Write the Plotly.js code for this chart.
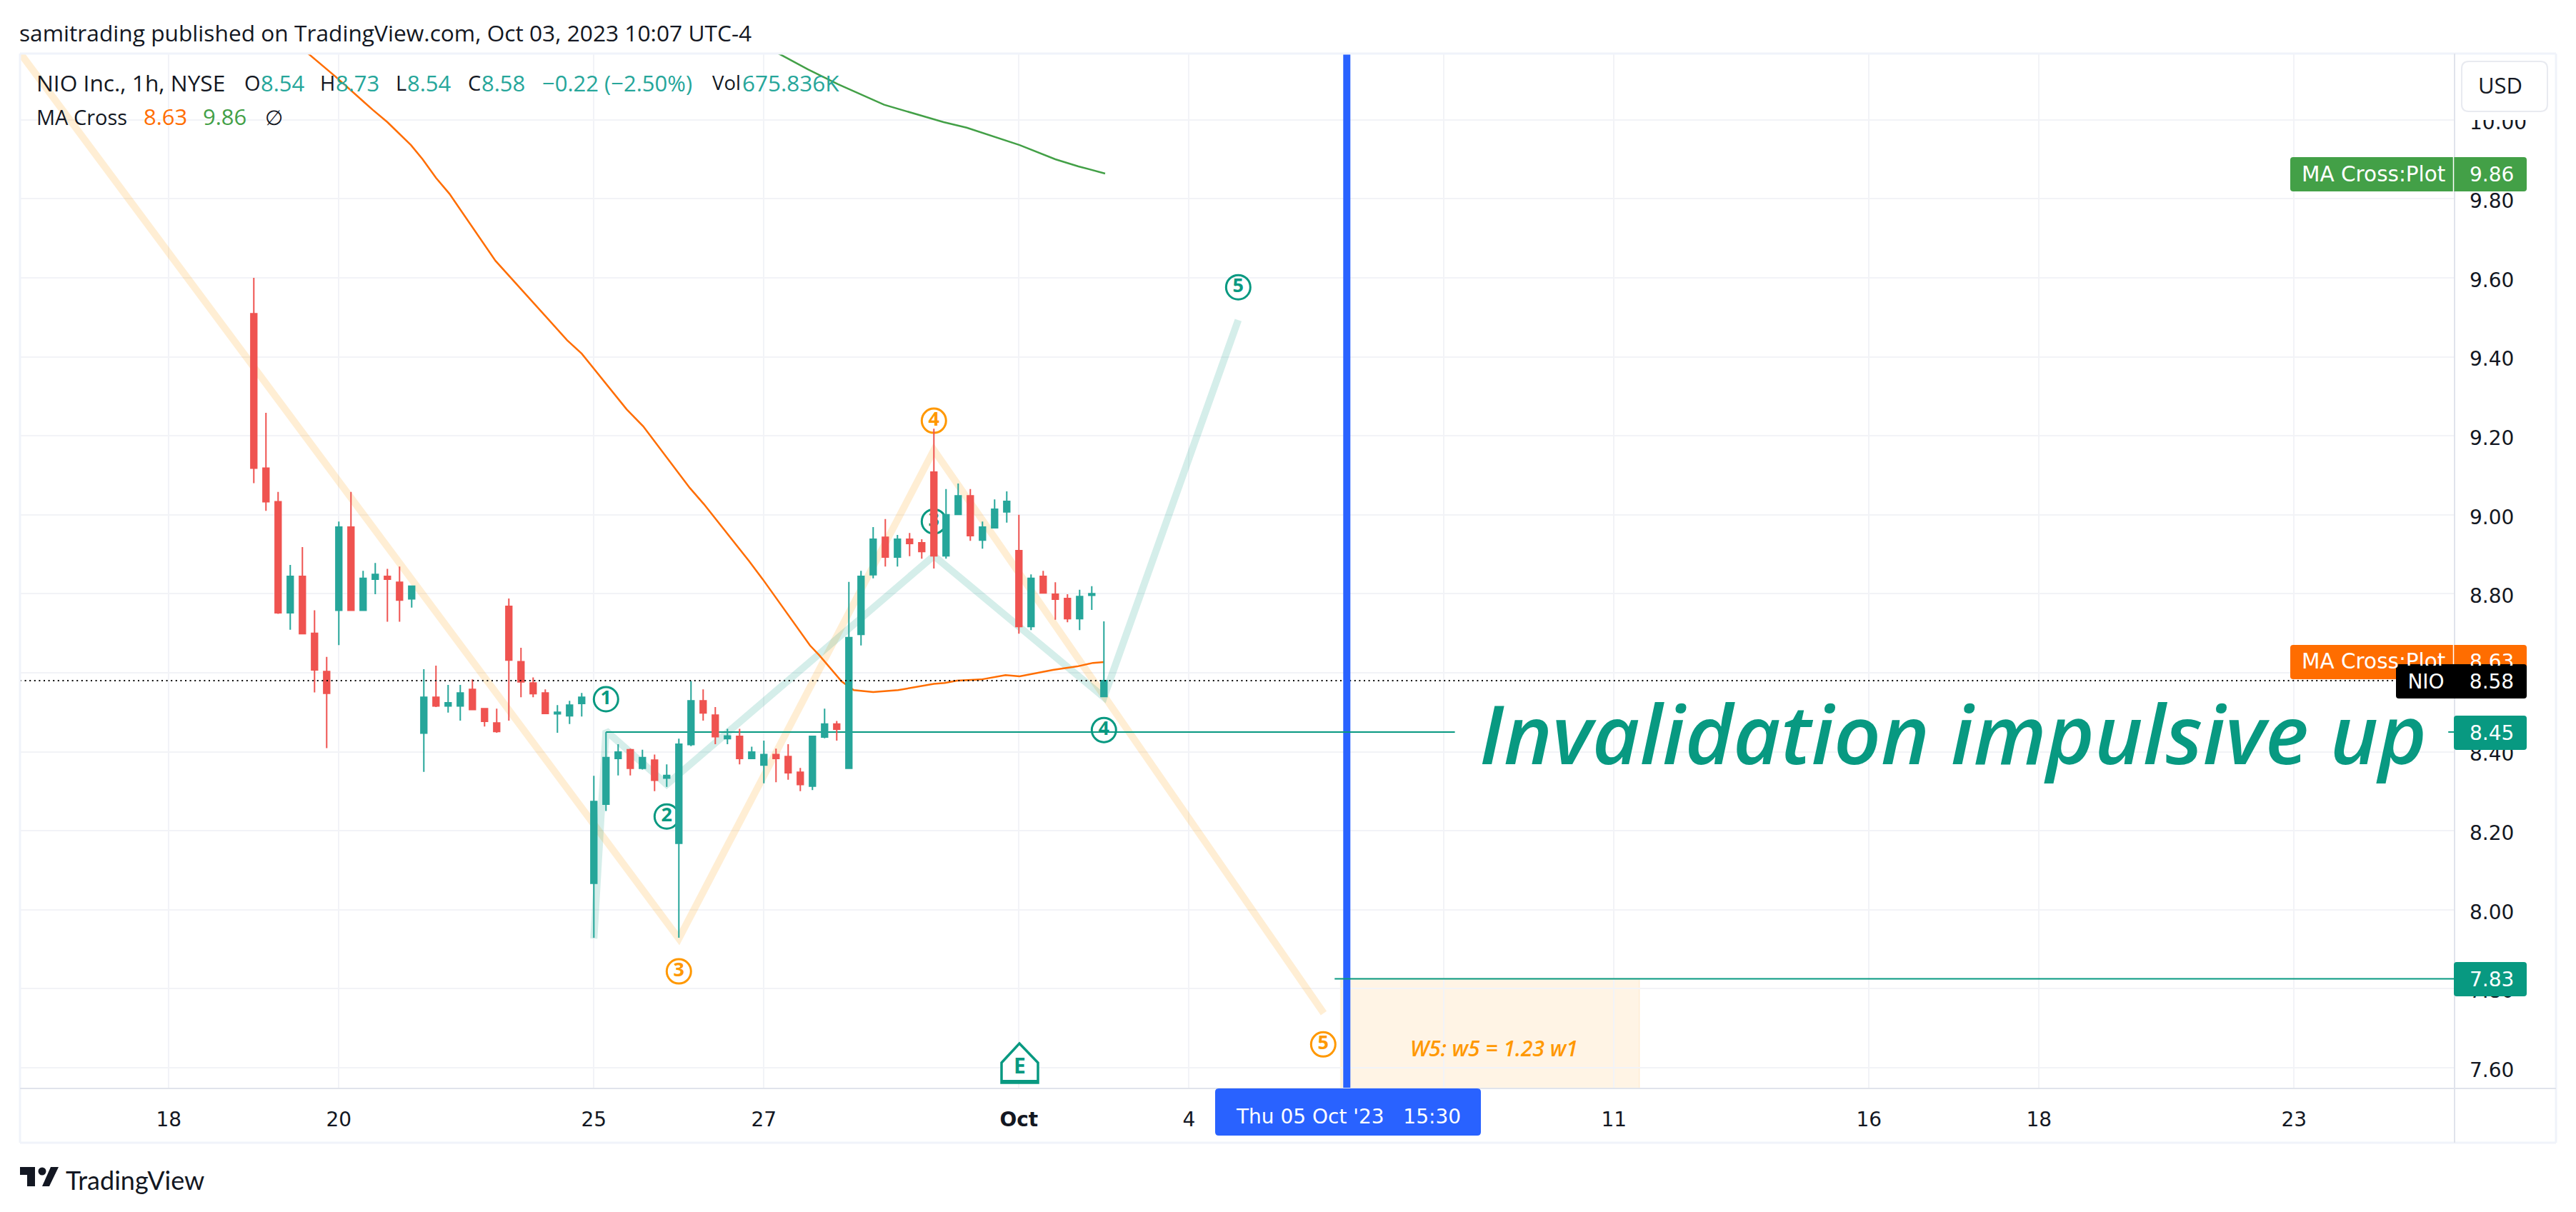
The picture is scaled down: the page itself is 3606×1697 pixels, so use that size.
<!DOCTYPE html>
<html>
<head>
<meta charset="utf-8">
<script src="https://cdn.plot.ly/plotly-3.0.1.min.js"></script>
<style>html,body{margin:0;padding:0;background:#fff;overflow:hidden}#chart{width:3606px;height:1697px}</style>
</head>
<body>
<div id="chart"></div>
<script>
// ---- Data: x is a bar index, 0 = first hourly bar of Sep 25, seven bars per session ----
const bars = [];
for (let b = -28; b <= 42; b++) bars.push(b);
const opens  = [9.509,9.118,9.033,8.752,8.844,8.700,8.603,8.758,8.969,8.758,8.837,8.844,8.829,8.787,8.447,8.538,8.516,8.516,8.558,8.509,8.473,8.768,8.628,8.574,8.549,8.496,8.491,8.522,8.067,8.267,8.383,8.405,8.358,8.379,8.333,8.168,8.418,8.529,8.493,8.433,8.439,8.383,8.366,8.393,8.388,8.348,8.313,8.437,8.470,8.358,8.697,8.848,8.943,8.893,8.938,8.929,9.108,8.896,9.001,9.048,8.936,8.967,9.007,8.909,8.717,8.844,8.799,8.788,8.737,8.796,8.54];
const highs  = [9.600,9.258,9.058,8.873,8.918,8.758,8.640,8.983,9.058,8.858,8.878,8.863,8.869,8.819,8.609,8.618,8.569,8.569,8.583,8.509,8.509,8.788,8.663,8.588,8.558,8.518,8.529,8.549,8.339,8.450,8.419,8.408,8.405,8.393,8.368,8.433,8.579,8.558,8.513,8.458,8.458,8.413,8.428,8.408,8.419,8.359,8.439,8.509,8.478,8.830,8.858,8.969,8.989,8.949,8.954,8.938,9.218,9.065,9.079,9.065,8.983,9.039,9.059,9.000,8.849,8.858,8.829,8.799,8.810,8.819,8.73];
const lows   = [9.080,9.010,8.749,8.709,8.699,8.550,8.409,8.670,8.758,8.758,8.799,8.729,8.729,8.765,8.349,8.513,8.499,8.479,8.507,8.464,8.448,8.479,8.538,8.538,8.497,8.448,8.470,8.489,7.929,8.250,8.340,8.340,8.355,8.300,8.311,7.929,8.414,8.479,8.419,8.419,8.368,8.383,8.320,8.323,8.329,8.300,8.303,8.434,8.428,8.358,8.669,8.839,8.869,8.869,8.895,8.889,8.864,8.889,9.000,8.934,8.914,8.967,8.980,8.699,8.708,8.802,8.734,8.728,8.708,8.759,8.54];
const closes = [9.118,9.033,8.752,8.844,8.699,8.607,8.548,8.969,8.758,8.839,8.849,8.837,8.784,8.819,8.538,8.516,8.524,8.549,8.507,8.477,8.451,8.632,8.577,8.547,8.497,8.500,8.518,8.538,8.274,8.385,8.399,8.358,8.385,8.328,8.340,8.419,8.529,8.498,8.438,8.440,8.383,8.399,8.393,8.383,8.347,8.317,8.439,8.470,8.457,8.689,8.844,8.938,8.893,8.938,8.927,8.907,8.896,9.000,9.048,8.947,8.969,9.014,9.034,8.717,8.839,8.802,8.786,8.737,8.793,8.800,8.58];

const maFastX = [-24,-21.3,-18.2,-17,-15.06,-14.1,-13,-11.9,-8.1,-5.2,-2.2,-1,2.7,4.06,7.9,9.06,12.8,13.9,17.8,18.6,20.4,21.4,23,25.06,28,28.9,29.9,31.9,33.9,35.06,37.8,39.8,41.1,42];
const maFastY = [10.18,10.110,10.025,9.994,9.936,9.900,9.853,9.813,9.643,9.545,9.442,9.408,9.267,9.224,9.068,9.027,8.882,8.837,8.669,8.643,8.578,8.556,8.551,8.556,8.572,8.574,8.580,8.583,8.594,8.591,8.607,8.616,8.625,8.627];
const maSlowX = [14,15.2,17.6,20.1,23.9,28.8,30.7,35.06,38,39.9,42.1];
const maSlowY = [10.19,10.168,10.128,10.090,10.038,9.994,9.980,9.936,9.900,9.882,9.864];

const waveOrangeX = [-50,7,28,60.1];
const waveOrangeY = [10.283,7.927,9.164,7.738];
const waveGreenX  = [0,1,6,28,42,53.06];
const waveGreenY  = [7.927,8.453,8.317,8.896,8.538,9.493];

const greenLabelX = [1,6,28,42,53.06];
const greenLabelY = [8.533,8.236,8.983,8.455,9.576];
const greenLabelT = ['1','2','3','4','5'];
const orangeLabelX = [7,28,60.06];
const orangeLabelY = [7.844,9.238,7.659];
const orangeLabelT = ['3','4','5'];

const lastPrice = 8.58, invalidation = 8.45, target = 7.825;
const crossBar = 62;

const xTickVals = [-35,-21,0,14,35,49,70,84,105,119,140];
const xTickText = ['18','20','25','27','<b>Oct</b>','4','','11','16','18','23'];
const yTickVals = [7.6,7.8,8.0,8.2,8.4,8.6,8.8,9.0,9.2,9.4,9.6,9.8,10.0];
const yTickText = ['7.60','7.80','8.00','8.20','8.40','','8.80','9.00','9.20','9.40','9.60','9.80','10.00'];

const titleText = 'samitrading published on TradingView.com, Oct 03, 2023 10:07 UTC-4';
const ink = '#131722', upC = '#26a69a', downC = '#ef5350', teal = '#089981', amber = '#ff9800', maO = '#ff6d00', maG = '#43a047', blue = '#2962ff';
const legendRow1 = [[51,'NIO Inc., 1h, NYSE',ink,31.7],[342,'O',ink,29],[365,'8.54',upC,31],[448,'H',ink,29],[470,'8.73',upC,31],[554,'L',ink,29],[570,'8.54',upC,31],[655,'C',ink,29],[674,'8.58',upC,31],[759,'−0.22 (−2.50%)',upC,31],[997,'Vol',ink,27.5],[1039,'675.836K',upC,31.5]];
const legendRow2 = [[51,'MA Cross',ink,29],[201,'8.63',maO,31],[284,'9.86',maG,31],[371,'∅',ink,29]];

// ---- Frame geometry in pixels ----
const L = 28, R = 3436, T = 75, B = 1524, W = 3606, H = 1697;
const px = x => (x - L) / (R - L), py = y => (B - y) / (B - T);
const xRange = [(L - 831.3) / 17, (R - 831.3) / 17];
const yRange = [7.6 - (B - 1495) / 553, 10 + (167.7 - T) / 553];

function rr(x0, y0, x1, y1, r, fill, line) {
  const X = v => px(v).toFixed(6), Y = v => py(v).toFixed(6);
  const d = `M${X(x0 + r)},${Y(y0)} L${X(x1 - r)},${Y(y0)} Q${X(x1)},${Y(y0)} ${X(x1)},${Y(y0 + r)} L${X(x1)},${Y(y1 - r)} Q${X(x1)},${Y(y1)} ${X(x1 - r)},${Y(y1)} L${X(x0 + r)},${Y(y1)} Q${X(x0)},${Y(y1)} ${X(x0)},${Y(y1 - r)} L${X(x0)},${Y(y0 + r)} Q${X(x0)},${Y(y0)} ${X(x0 + r)},${Y(y0)} Z`;
  return {type:'path', xref:'paper', yref:'paper', layer:'above', path:d, fillcolor:fill, line: line || {width:0}};
}
function poly(pts, fill, line) {
  const d = pts.map((p,i) => (i ? 'L' : 'M') + px(p[0]).toFixed(6) + ',' + py(p[1]).toFixed(6)).join(' ') + ' Z';
  return {type:'path', xref:'paper', yref:'paper', layer:'above', path:d, fillcolor:fill, line: line || {width:0}};
}
function seg(x0,y0,x1,y1,color,width) {
  return {type:'line', xref:'paper', yref:'paper', layer:'above', x0:px(x0), y0:py(y0), x1:px(x1), y1:py(y1), line:{color:color,width:width}};
}
const uiFont = 'DejaVu Sans', textFont = 'Open Sans';
function note(x, y, text, size, color, extra) {
  return Object.assign({xref:'paper', yref:'paper', x:px(x), y:py(y), text:text, showarrow:false, xanchor:'center', yanchor:'middle',
    font:{family:uiFont, size:size, color:color}, borderpad:0, borderwidth:0}, extra || {});
}

const shapes = [
  // projection box
  {type:'rect', xref:'x', yref:'y', layer:'below', x0:crossBar-0.5, x1:86.1, y0:yRange[0], y1:target, fillcolor:'rgba(255,152,0,0.1)', line:{color:'rgba(255,152,0,0.08)',width:2}},
  // USD box mask and box
  {type:'rect', xref:'paper', yref:'paper', layer:'above', x0:px(3438), x1:px(3574), y0:py(168), y1:py(80), fillcolor:'#ffffff', line:{width:0}},
  // frame
  seg(L,T,3578,T,'#f0f3fa',3), seg(L,T,L,1600,'#f0f3fa',3), seg(3578,T,3578,1600,'#f0f3fa',3), seg(L,1600,3578,1600,'#f0f3fa',3),
  seg(R,T,R,1600,'#e0e3eb',2), seg(L,B,3578,B,'#e0e3eb',2),
  rr(3446,86,3566,156,10,'#ffffff',{color:'#e8eaf0',width:2}),
  // price tags
  rr(3206,220,3537,268,4,maG), seg(3434.5,220,3434.5,268,'#ffffff',1.5),
  rr(3206,903,3537,951,4,maO), seg(3434.5,903,3434.5,951,'#ffffff',1.5),
  rr(3354,930,3537,978,4,'#000000'),
  rr(3435,1002,3537,1050,4,teal),
  rr(3435,1347,3537,1395,4,teal),
  // crosshair date tag
  rr(1701,1524,2073,1590,5,blue),
  // earnings marker
  poly([[1427,1461],[1453,1488],[1453,1516],[1402,1516],[1402,1488]],'#ffffff',{color:teal,width:3.5}),
  seg(1402,1514,1453,1514,teal,4),
  // logo
  poly([[28,1634],[49,1634],[49,1661],[38,1661],[38,1645],[28,1645]],ink),
  poly([[71,1634],[82,1634],[69,1661],[59,1661]],ink),
  {type:'circle', xref:'paper', yref:'paper', layer:'above', x0:px(53.5), x1:px(64.5), y0:py(1634.5), y1:py(1645.5), fillcolor:ink, line:{width:0}}
];

const annotations = [
  note(27,45,titleText,31.7,ink,{xanchor:'left',font:{family:textFont,size:31.7,color:ink}}),
  ...legendRow1.map(p => note(p[0],116,p[1],p[3],p[2],{xanchor:'left',font:{family:textFont,size:p[3],color:p[2]}})),
  ...legendRow2.map(p => note(p[0],163,p[1],p[3],p[2],{xanchor:'left',font:{family:textFont,size:p[3],color:p[2]}})),
  note(3500,119,'USD',31,ink,{font:{family:textFont,size:31,color:ink}}),
  note(3322,244,'MA Cross:Plot',29.5,'#ffffff'), note(3488,244,'9.86',28,'#ffffff'),
  note(3322,926,'MA Cross:Plot',29.5,'#ffffff'), note(3488,926,'8.63',28,'#ffffff'),
  note(3396,954,'NIO',28,'#ffffff',{bgcolor:'#000000',width:70,height:44}),
  note(3488,954,'8.58',28,'#ffffff',{bgcolor:'#000000',width:90,height:44}),
  note(3488,1026,'8.45',28,'#ffffff'),
  note(3488,1371,'7.83',28,'#ffffff'),
  note(1887,1563,"Thu 05 Oct '23\u00a0\u00a0\u00a015:30",28,'#ffffff'),
  note(1427,1491,'E',30,teal,{font:{family:textFont,size:30,color:teal,weight:700}}),
  note(2734,1025,'Invalidation impulsive up',115,teal,{font:{family:textFont,size:115,color:teal,style:'italic',weight:600}}),
  note(2091,1467,'W5: w5 = 1.23 w1',30,amber,{font:{family:textFont,size:30,color:amber,style:'italic',weight:600}}),
  note(92,1652,'TradingView',36,ink,{xanchor:'left',font:{family:'Lato',size:36,color:ink}})
];

const traces = [
  {type:'scatter', mode:'lines', x:waveOrangeX, y:waveOrangeY, line:{color:'rgba(255,152,0,0.17)',width:10}, hoverinfo:'skip'},
  {type:'scatter', mode:'lines', x:waveGreenX, y:waveGreenY, line:{color:'rgba(8,153,129,0.17)',width:10}, hoverinfo:'skip'},
  {type:'scatter', mode:'lines', x:maFastX, y:maFastY, line:{color:maO,width:2.5}, name:'MA fast'},
  {type:'scatter', mode:'lines', x:maSlowX, y:maSlowY, line:{color:maG,width:2.5}, name:'MA slow'},
  {type:'scatter', mode:'lines', x:[1,43], y:[invalidation,invalidation], line:{color:teal,width:2}, hoverinfo:'skip'},
  {type:'scatter', mode:'markers+text', x:greenLabelX, y:greenLabelY, text:greenLabelT, textposition:'middle center',
    textfont:{family:textFont,size:27,color:teal,weight:700}, marker:{symbol:'circle-open',size:34,color:teal,line:{color:teal,width:3}}, hoverinfo:'skip'},
  {type:'scatter', mode:'markers+text', x:orangeLabelX, y:orangeLabelY, text:orangeLabelT, textposition:'middle center',
    textfont:{family:textFont,size:27,color:amber,weight:700}, marker:{symbol:'circle-open',size:34,color:amber,line:{color:amber,width:3}}, hoverinfo:'skip'},
  // upper pane: candles, then the lines that sit over them
  {type:'candlestick', xaxis:'x2', yaxis:'y2', x:bars, open:opens, high:highs, low:lows, close:closes, width:0.706, whiskerwidth:0,
    increasing:{line:{color:upC,width:2},fillcolor:upC}, decreasing:{line:{color:downC,width:2},fillcolor:downC}, name:'NIO'},
  {type:'scatter', xaxis:'x2', yaxis:'y2', mode:'lines', x:[xRange[0],xRange[1]], y:[lastPrice,lastPrice], line:{color:'#000000',width:2,dash:'2px,4.6px'}, hoverinfo:'skip'},
  {type:'scatter', xaxis:'x2', yaxis:'y2', mode:'lines', x:[crossBar,crossBar], y:yRange, line:{color:blue,width:10}, hoverinfo:'skip'},
  {type:'scatter', xaxis:'x2', yaxis:'y2', mode:'lines', x:[43,70.9,null,152.7,xRange[1]], y:[invalidation,invalidation,null,invalidation,invalidation], line:{color:teal,width:2}, hoverinfo:'skip'},
  {type:'scatter', xaxis:'x2', yaxis:'y2', mode:'lines', x:[61,xRange[1]], y:[target,target], line:{color:teal,width:2}, hoverinfo:'skip'}
];

const layout = {
  width:W, height:H, autosize:false, showlegend:false, paper_bgcolor:'#ffffff', plot_bgcolor:'#ffffff',
  margin:{l:L, r:W-R, t:T, b:H-B, pad:0},
  xaxis:{type:'linear', range:xRange, tickmode:'array', tickvals:xTickVals, ticktext:xTickText, showgrid:true, gridcolor:'#f2f3f7', gridwidth:2,
    zeroline:false, showline:false, ticks:'', ticklabelstandoff:24, tickfont:{family:uiFont,size:28,color:ink}, rangeslider:{visible:false}, fixedrange:true},
  yaxis:{type:'linear', range:yRange, side:'right', tickmode:'array', tickvals:yTickVals, ticktext:yTickText, showgrid:true, gridcolor:'#f2f3f7', gridwidth:2,
    zeroline:false, showline:false, ticks:'', ticklabelstandoff:20, ticklabelshift:3, tickfont:{family:uiFont,size:28,color:ink}, fixedrange:true},
  xaxis2:{type:'linear', overlaying:'x', anchor:'y2', range:xRange, visible:false, showgrid:false, zeroline:false, rangeslider:{visible:false}, fixedrange:true},
  yaxis2:{type:'linear', overlaying:'y', anchor:'x2', range:yRange, visible:false, showgrid:false, zeroline:false, fixedrange:true},
  shapes:shapes, annotations:annotations
};
Plotly.newPlot('chart', traces, layout, {displayModeBar:false, staticPlot:true});
</script>
</body>
</html>
